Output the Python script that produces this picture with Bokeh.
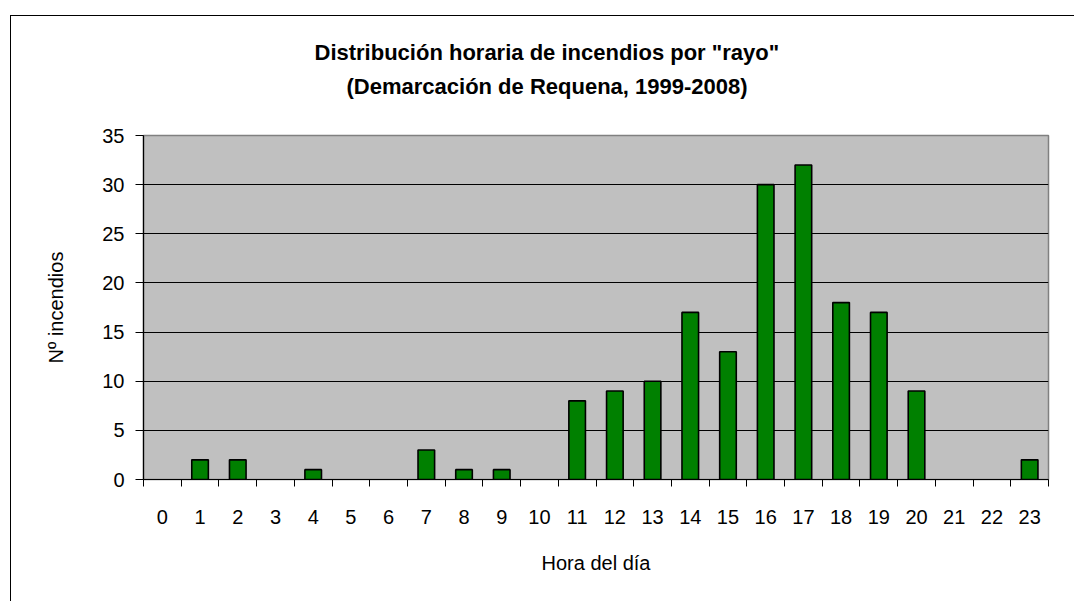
from bokeh.plotting import figure
from bokeh.models import ColumnDataSource, FixedTicker, Title, LinearAxis
from bokeh.embed import file_html
from bokeh.resources import INLINE

# ---- data ----
hours = ["0", "1", "2", "3", "4", "5", "6", "7", "8", "9", "10", "11",
         "12", "13", "14", "15", "16", "17", "18", "19", "20", "21", "22", "23"]
incendios = [0, 2, 2, 0, 1, 0, 0, 3, 1, 1, 0, 8,
             9, 10, 17, 13, 30, 32, 18, 17, 9, 0, 0, 2]
y_ticks = [0, 5, 10, 15, 20, 25, 30, 35]

title_line1 = 'Distribución horaria de incendios por "rayo"'
title_line2 = "(Demarcación de Requena, 1999-2008)"
x_title = "Hora del día"
y_title = "Nº incendios"

FONT = "Liberation Sans"

centers = [i + 0.5 for i in range(len(hours))]
bounds = [float(i) for i in range(len(hours) + 1)]

# only non-empty hours get a bar (zero-height bars would leave a stub line)
bx = [c for c, v in zip(centers, incendios) if v > 0]
bt = [v for v in incendios if v > 0]
src = ColumnDataSource(data=dict(x=bx, top=bt))

W, H = 1064, 586
p = figure(width=W, height=H, output_backend="svg", toolbar_location=None,
           x_range=(0, len(hours)), y_range=(0, 35),
           min_border_left=132, min_border_right=27,
           min_border_top=119, min_border_bottom=123,
           background_fill_color="#C0C0C0", border_fill_color="white")
# outer chart frame: only its top and left edges fall inside the picture
p.styles = {"margin-left": "11px", "margin-top": "16px",
            "box-shadow": "-1px -1px 0 0 #000"}
p.title.visible = False

xa = p.below[0]
ya = p.left[0]

# invisible spacer between plot area and the two title lines
spacer = LinearAxis(ticker=FixedTicker(ticks=[12]), axis_line_color=None,
                    major_tick_line_color=None, minor_tick_line_color=None,
                    major_tick_out=32, major_tick_in=0,
                    major_label_standoff=0,
                    major_label_overrides={12: ""},
                    major_label_text_font_size="0px")
p.add_layout(spacer, "above")

t2 = Title(text=title_line2, align="left", offset=203,
           text_font=FONT, text_font_size="22px", text_font_style="bold",
           text_color="black", standoff=10)
t1 = Title(text=title_line1, align="left", offset=171,
           text_font=FONT, text_font_size="22px", text_font_style="bold",
           text_color="black", standoff=4)
p.add_layout(t2, "above")
p.add_layout(t1, "above")

p.vbar(x="x", top="top", width=0.44, bottom=0, source=src,
       fill_color="#008000", line_color="black", line_width=1.6)

p.outline_line_color = "#808080"
p.outline_line_width = 1.5

# grid
p.xgrid.visible = False
p.ygrid.ticker = FixedTicker(ticks=[5, 10, 15, 20, 25, 30])
p.ygrid.grid_line_color = "black"
p.ygrid.grid_line_width = 1

# y axis
ya.ticker = FixedTicker(ticks=y_ticks)
ya.axis_line_color = "black"
ya.axis_line_width = 1.2
ya.major_tick_out = 8
ya.major_tick_in = 0
ya.minor_tick_line_color = None
ya.major_tick_line_color = "black"
ya.major_label_text_font = FONT
ya.major_label_text_font_size = "20px"
ya.major_label_text_color = "black"
ya.major_label_standoff = 11
ya.axis_label = y_title
ya.axis_label_text_font = FONT
ya.axis_label_text_font_size = "20px"
ya.axis_label_text_font_style = "normal"
ya.axis_label_text_color = "black"
ya.axis_label_standoff = 32

# x axis (ticks at hour boundaries, labels at hour centres)
xa.ticker = FixedTicker(ticks=centers, minor_ticks=bounds)
xa.major_label_overrides = {c: h for c, h in zip(centers, hours)}
xa.axis_line_color = "black"
xa.axis_line_width = 1.2
xa.major_tick_out = 0
xa.major_tick_in = 0
xa.minor_tick_out = 7
xa.minor_tick_in = 0
xa.minor_tick_line_color = "black"
xa.major_label_text_font = FONT
xa.major_label_text_font_size = "20px"
xa.major_label_text_color = "black"
xa.major_label_standoff = 23
xa.axis_label = x_title
xa.axis_label_text_font = FONT
xa.axis_label_text_font_size = "20px"
xa.axis_label_text_font_style = "normal"
xa.axis_label_text_color = "black"
xa.axis_label_standoff = 25

open("out.html", "w").write(file_html(p, INLINE))
